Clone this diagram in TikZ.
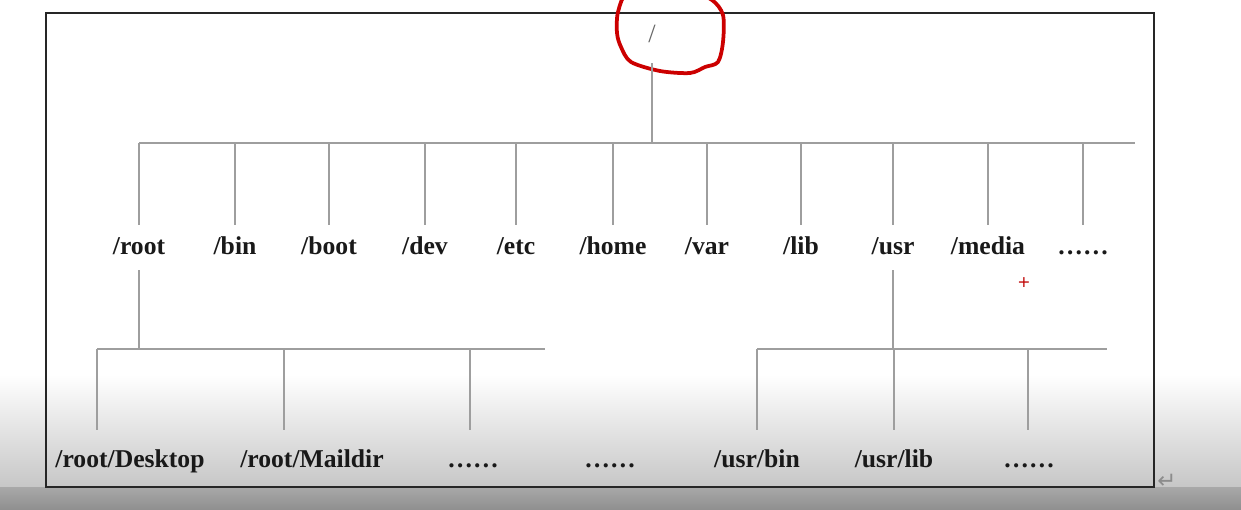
\documentclass[tikz,border=0pt]{standalone}
\usepackage{fontspec}
\setmainfont{Liberation Serif}
\newfontfamily\symfont{DejaVu Sans}
\begin{document}
\begin{tikzpicture}[x=0.02cm, y=-0.02cm,
    ln/.style={draw=black!38, line width=0.035cm},
    dir/.style={anchor=base, inner xsep=0pt, inner ysep=0.28cm, text height=0.3cm, text depth=0.04cm,
        font=\fontsize{14.6}{17}\selectfont\bfseries, text=black!90},
    leaf/.style={dir, inner ysep=0.44cm}]
    \def\pw{1241}
    \def\ph{510}
    \useasboundingbox (0,0) rectangle (\pw,\ph);
    \fill [white] (0,0) rectangle (\pw,375);
    \shade [top color=white, bottom color=black!22] (0,375) rectangle (\pw,487);
    \shade [top color=black!34, bottom color=black!44] (0,487) rectangle (\pw,\ph);
    \draw [black!85, line width=0.03cm] (46,13) rectangle (1154,487);
    % the top of the tree
    \node [dir, inner ysep=0.36cm, font=\fontsize{15}{17}\selectfont, text=black!60] (slash) at (652,43) {/};
    \coordinate (hub) at (652,143);
    \coordinate (hubR) at (1135,143);
    \begin{scope} % hand-drawn ring round the slash
        \clip (0,0) rectangle (\pw,\ph);
        \draw [red!80!black, line width=0.075cm] plot [smooth cycle] coordinates {(628,-8) (618,12) (617,33) (621,47)
            (631,62) (660,71) (690,73) (705,67) (718,62) (723,42) (723,15) (712,0) (690,-8) (660,-10)};
    \end{scope}
    \draw [ln] (slash) -- (hub);
    % first level
    \node [dir] (root) at (139,254) {/root};
    \node [dir] (bin) at (235,254) {/bin};
    \node [dir] (boot) at (329,254) {/boot};
    \node [dir] (dev) at (425,254) {/dev};
    \node [dir] (etc) at (516,254) {/etc};
    \node [dir] (home) at (613,254) {/home};
    \node [dir] (var) at (707,254) {/var};
    \node [dir] (lib) at (801,254) {/lib};
    \node [dir] (usr) at (893,254) {/usr};
    \node [dir] (media) at (988,254) {/media};
    \node [dir] (more) at (1083,254) {……};
    \draw [ln] (root |- hub) -- (hubR);
    \draw [ln] (root |- hub) -- (root);
    \draw [ln] (bin |- hub) -- (bin);
    \draw [ln] (boot |- hub) -- (boot);
    \draw [ln] (dev |- hub) -- (dev);
    \draw [ln] (etc |- hub) -- (etc);
    \draw [ln] (home |- hub) -- (home);
    \draw [ln] (var |- hub) -- (var);
    \draw [ln] (lib |- hub) -- (lib);
    \draw [ln] (usr |- hub) -- (usr);
    \draw [ln] (media |- hub) -- (media);
    \draw [ln] (more |- hub) -- (more);
    % under /root
    \node [leaf] (desk) at (130,467) {/root/Desktop};
    \node [leaf] (mail) at (312,467) {/root/Maildir};
    \node [leaf] (rdots) at (473,467) {……};
    \node [leaf] (mdots) at (610,467) {……};
    \coordinate (r1) at (97,349);
    \coordinate (r2) at (284,349);
    \coordinate (r3) at (470,349);
    \coordinate (rR) at (545,349);
    \draw [ln] (root) -- (root |- r1);
    \draw [ln] (r1) -- (rR);
    \draw [ln] (r1) -- (r1 |- desk.north);
    \draw [ln] (r2) -- (r2 |- mail.north);
    \draw [ln] (r3) -- (r3 |- rdots.north);
    % under /usr
    \node [leaf] (ubin) at (757,467) {/usr/bin};
    \node [leaf] (ulib) at (894,467) {/usr/lib};
    \node [leaf] (udots) at (1029,467) {……};
    \coordinate (u1) at (757,349);
    \coordinate (u2) at (894,349);
    \coordinate (u3) at (1028,349);
    \coordinate (uR) at (1107,349);
    \draw [ln] (usr) -- (usr |- u1);
    \draw [ln] (u1) -- (uR);
    \draw [ln] (u1) -- (u1 |- ubin.north);
    \draw [ln] (u2) -- (u2 |- ulib.north);
    \draw [ln] (u3) -- (u3 |- udots.north);
    % marks of the editor
    \node [text=red!75!black, font=\symfont\fontsize{9}{9}\selectfont] (plus) at (1024,283) {+};
    \node [text=black!45, font=\symfont\fontsize{13}{13}\selectfont] (ret) at (1167,481) {↵};
\end{tikzpicture}
\end{document}
